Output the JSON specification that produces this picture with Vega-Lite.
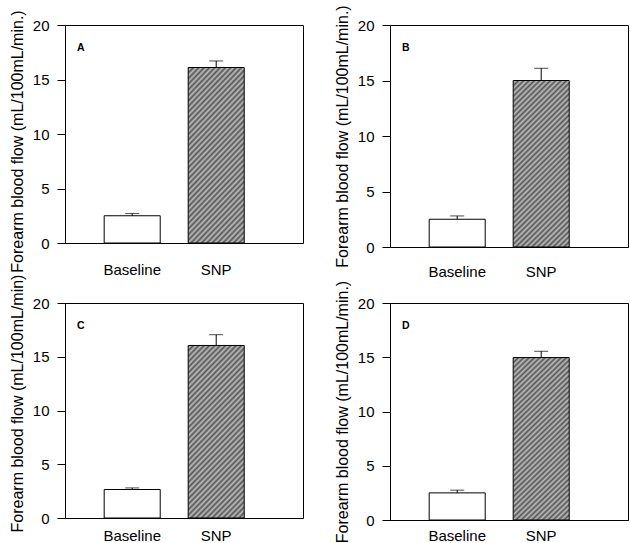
{
  "$schema": "https://vega.github.io/schema/vega-lite/v6.json",
  "background": "white",
  "padding": {"left": 8, "top": 4, "right": 0, "bottom": 0},
  "data": {
    "values": [
      {"panel": "A", "cond": "Baseline", "mean": 2.5, "upper": 2.7},
      {"panel": "A", "cond": "SNP", "mean": 16.1, "upper": 16.7},
      {"panel": "B", "cond": "Baseline", "mean": 2.5, "upper": 2.8},
      {"panel": "B", "cond": "SNP", "mean": 15.0, "upper": 16.1},
      {"panel": "C", "cond": "Baseline", "mean": 2.65, "upper": 2.8},
      {"panel": "C", "cond": "SNP", "mean": 16.05, "upper": 17.05},
      {"panel": "D", "cond": "Baseline", "mean": 2.5, "upper": 2.75},
      {"panel": "D", "cond": "SNP", "mean": 14.97, "upper": 15.55}
    ]
  },
  "columns": 2,
  "bounds": "flush",
  "spacing": {"row": 56, "column": 87},
  "concat": [
    {
      "width": 238, "height": 218,
      "title": {"text": "A"},
      "transform": [{"filter": "datum.panel === 'A'"}],
      "encoding": {
        "x": {"field": "cond", "type": "nominal", "title": null,
              "scale": {"domain": ["Baseline", "SNP"], "paddingInner": 0.333, "paddingOuter": 0.583, "align": 0.4}, "axis": {"labelPadding": 19}},
        "y": {"field": "mean", "type": "quantitative", "title": "Forearm blood flow (mL/100mL/min.)",
              "scale": {"domain": [0, 20]}, "axis": {"values": [0, 5, 10, 15, 20], "titleY": 116}}
      },
      "layer": [
        {"transform": [{"filter": "datum.cond === 'Baseline'"}], "mark": {"type": "bar", "fill": "#ffffff"}},
        {"transform": [{"filter": "datum.cond === 'SNP'"}], "mark": {"type": "bar"}},
        {"mark": {"type": "rule", "color": "black"}, "encoding": {"y2": {"field": "upper"}}},
        {"mark": {"type": "tick", "color": "black", "size": 14, "thickness": 1}, "encoding": {"y": {"field": "upper", "type": "quantitative"}}}
      ]
    },
    {
      "width": 238, "height": 222,
      "title": {"text": "B"},
      "transform": [{"filter": "datum.panel === 'B'"}],
      "encoding": {
        "x": {"field": "cond", "type": "nominal", "title": null,
              "scale": {"domain": ["Baseline", "SNP"], "paddingInner": 0.333, "paddingOuter": 0.583, "align": 0.4}, "axis": {"labelPadding": 17}},
        "y": {"field": "mean", "type": "quantitative", "title": "Forearm blood flow (mL/100mL/min.)",
              "scale": {"domain": [0, 20]}, "axis": {"values": [0, 5, 10, 15, 20]}}
      },
      "layer": [
        {"transform": [{"filter": "datum.cond === 'Baseline'"}], "mark": {"type": "bar", "fill": "#ffffff"}},
        {"transform": [{"filter": "datum.cond === 'SNP'"}], "mark": {"type": "bar"}},
        {"mark": {"type": "rule", "color": "black"}, "encoding": {"y2": {"field": "upper"}}},
        {"mark": {"type": "tick", "color": "black", "size": 14, "thickness": 1}, "encoding": {"y": {"field": "upper", "type": "quantitative"}}}
      ]
    },
    {
      "width": 238, "height": 215,
      "title": {"text": "C"},
      "transform": [{"filter": "datum.panel === 'C'"}],
      "encoding": {
        "x": {"field": "cond", "type": "nominal", "title": null,
              "scale": {"domain": ["Baseline", "SNP"], "paddingInner": 0.333, "paddingOuter": 0.583, "align": 0.4}, "axis": {"labelPadding": 10}},
        "y": {"field": "mean", "type": "quantitative", "title": "Forearm blood flow (mL/100mL/min)",
              "scale": {"domain": [0, 20]}, "axis": {"values": [0, 5, 10, 15, 20], "titleY": 100}}
      },
      "layer": [
        {"transform": [{"filter": "datum.cond === 'Baseline'"}], "mark": {"type": "bar", "fill": "#ffffff"}},
        {"transform": [{"filter": "datum.cond === 'SNP'"}], "mark": {"type": "bar"}},
        {"mark": {"type": "rule", "color": "black"}, "encoding": {"y2": {"field": "upper"}}},
        {"mark": {"type": "tick", "color": "black", "size": 14, "thickness": 1}, "encoding": {"y": {"field": "upper", "type": "quantitative"}}}
      ]
    },
    {
      "width": 238, "height": 217,
      "title": {"text": "D"},
      "transform": [{"filter": "datum.panel === 'D'"}],
      "encoding": {
        "x": {"field": "cond", "type": "nominal", "title": null,
              "scale": {"domain": ["Baseline", "SNP"], "paddingInner": 0.333, "paddingOuter": 0.583, "align": 0.4}, "axis": {"labelPadding": 8}},
        "y": {"field": "mean", "type": "quantitative", "title": "Forearm blood flow (mL/100mL/min.)",
              "scale": {"domain": [0, 20]}, "axis": {"values": [0, 5, 10, 15, 20]}}
      },
      "layer": [
        {"transform": [{"filter": "datum.cond === 'Baseline'"}], "mark": {"type": "bar", "fill": "#ffffff"}},
        {"transform": [{"filter": "datum.cond === 'SNP'"}], "mark": {"type": "bar"}},
        {"mark": {"type": "rule", "color": "black"}, "encoding": {"y2": {"field": "upper"}}},
        {"mark": {"type": "tick", "color": "black", "size": 14, "thickness": 1}, "encoding": {"y": {"field": "upper", "type": "quantitative"}}}
      ]
    }
  ],
  "resolve": {"scale": {"x": "independent", "y": "independent"}},
  "config": {
    "font": "Liberation Sans",
    "view": {"stroke": "black", "strokeWidth": 1},
    "bar": {
        "stroke": "black", "strokeWidth": 1,
        "fill": {
          "gradient": "linear", "x1": 0, "y1": 0, "x2": 0.4, "y2": 1.2,
          "stops": [
            {"offset": 0, "color": "#555555"}, {"offset": 0.0119, "color": "#bdbdbd"},
            {"offset": 0.0238, "color": "#555555"}, {"offset": 0.0357, "color": "#bdbdbd"},
            {"offset": 0.0476, "color": "#555555"}, {"offset": 0.0595, "color": "#bdbdbd"},
            {"offset": 0.0714, "color": "#555555"}, {"offset": 0.0833, "color": "#bdbdbd"},
            {"offset": 0.0952, "color": "#555555"}, {"offset": 0.1071, "color": "#bdbdbd"},
            {"offset": 0.1190, "color": "#555555"}, {"offset": 0.1310, "color": "#bdbdbd"},
            {"offset": 0.1429, "color": "#555555"}, {"offset": 0.1548, "color": "#bdbdbd"},
            {"offset": 0.1667, "color": "#555555"}, {"offset": 0.1786, "color": "#bdbdbd"},
            {"offset": 0.1905, "color": "#555555"}, {"offset": 0.2024, "color": "#bdbdbd"},
            {"offset": 0.2143, "color": "#555555"}, {"offset": 0.2262, "color": "#bdbdbd"},
            {"offset": 0.2381, "color": "#555555"}, {"offset": 0.2500, "color": "#bdbdbd"},
            {"offset": 0.2619, "color": "#555555"}, {"offset": 0.2738, "color": "#bdbdbd"},
            {"offset": 0.2857, "color": "#555555"}, {"offset": 0.2976, "color": "#bdbdbd"},
            {"offset": 0.3095, "color": "#555555"}, {"offset": 0.3214, "color": "#bdbdbd"},
            {"offset": 0.3333, "color": "#555555"}, {"offset": 0.3452, "color": "#bdbdbd"},
            {"offset": 0.3571, "color": "#555555"}, {"offset": 0.3690, "color": "#bdbdbd"},
            {"offset": 0.3810, "color": "#555555"}, {"offset": 0.3929, "color": "#bdbdbd"},
            {"offset": 0.4048, "color": "#555555"}, {"offset": 0.4167, "color": "#bdbdbd"},
            {"offset": 0.4286, "color": "#555555"}, {"offset": 0.4405, "color": "#bdbdbd"},
            {"offset": 0.4524, "color": "#555555"}, {"offset": 0.4643, "color": "#bdbdbd"},
            {"offset": 0.4762, "color": "#555555"}, {"offset": 0.4881, "color": "#bdbdbd"},
            {"offset": 0.5000, "color": "#555555"}, {"offset": 0.5119, "color": "#bdbdbd"},
            {"offset": 0.5238, "color": "#555555"}, {"offset": 0.5357, "color": "#bdbdbd"},
            {"offset": 0.5476, "color": "#555555"}, {"offset": 0.5595, "color": "#bdbdbd"},
            {"offset": 0.5714, "color": "#555555"}, {"offset": 0.5833, "color": "#bdbdbd"},
            {"offset": 0.5952, "color": "#555555"}, {"offset": 0.6071, "color": "#bdbdbd"},
            {"offset": 0.6190, "color": "#555555"}, {"offset": 0.6310, "color": "#bdbdbd"},
            {"offset": 0.6429, "color": "#555555"}, {"offset": 0.6548, "color": "#bdbdbd"},
            {"offset": 0.6667, "color": "#555555"}, {"offset": 0.6786, "color": "#bdbdbd"},
            {"offset": 0.6905, "color": "#555555"}, {"offset": 0.7024, "color": "#bdbdbd"},
            {"offset": 0.7143, "color": "#555555"}, {"offset": 0.7262, "color": "#bdbdbd"},
            {"offset": 0.7381, "color": "#555555"}, {"offset": 0.7500, "color": "#bdbdbd"},
            {"offset": 0.7619, "color": "#555555"}, {"offset": 0.7738, "color": "#bdbdbd"},
            {"offset": 0.7857, "color": "#555555"}, {"offset": 0.7976, "color": "#bdbdbd"},
            {"offset": 0.8095, "color": "#555555"}, {"offset": 0.8214, "color": "#bdbdbd"},
            {"offset": 0.8333, "color": "#555555"}, {"offset": 0.8452, "color": "#bdbdbd"},
            {"offset": 0.8571, "color": "#555555"}, {"offset": 0.8690, "color": "#bdbdbd"},
            {"offset": 0.8810, "color": "#555555"}, {"offset": 0.8929, "color": "#bdbdbd"},
            {"offset": 0.9048, "color": "#555555"}, {"offset": 0.9167, "color": "#bdbdbd"},
            {"offset": 0.9286, "color": "#555555"}, {"offset": 0.9405, "color": "#bdbdbd"},
            {"offset": 0.9524, "color": "#555555"}, {"offset": 0.9643, "color": "#bdbdbd"},
            {"offset": 0.9762, "color": "#555555"}, {"offset": 0.9881, "color": "#bdbdbd"},
            {"offset": 1, "color": "#555555"}
          ]
        }
    },
    "title": {"orient": "none", "anchor": "start", "frame": "group", "fontSize": 10.5, "fontWeight": "bold", "color": "black", "baseline": "alphabetic", "dx": 12, "dy": 18},
    "axis": {"grid": false, "domainColor": "black", "tickColor": "black", "labelColor": "black", "titleColor": "black", "labelFont": "Liberation Sans", "titleFont": "Liberation Sans"},
    "axisY": {"labelFontSize": 15, "titleFontSize": 16, "titleFontWeight": "normal", "tickSize": 8, "labelPadding": 8, "titlePadding": 7, "domain": true},
    "axisX": {"labelFontSize": 15, "labelAngle": 0, "ticks": false, "domain": true}
  }
}
